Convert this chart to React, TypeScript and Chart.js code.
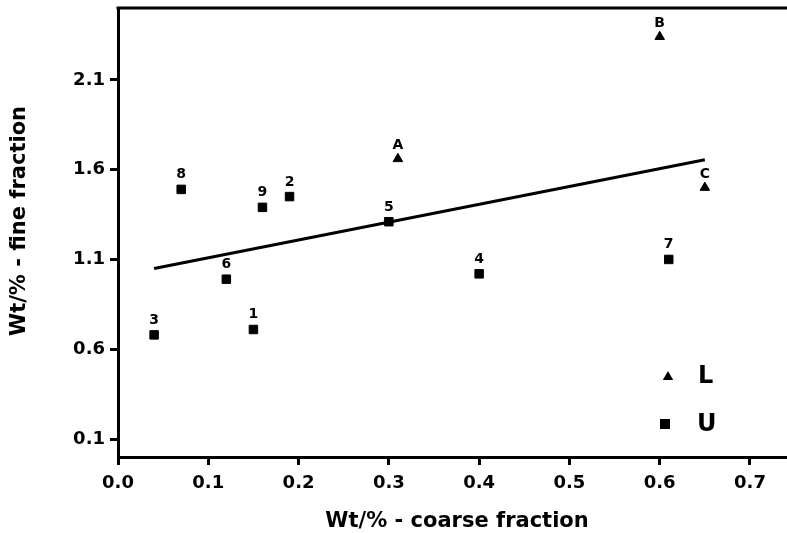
import React, { useEffect, useRef } from "react";
import { Chart, registerables } from "chart.js";

Chart.register(...registerables);

// ---- data ----
const U_LABELS = ["1", "2", "3", "4", "5", "6", "7", "8", "9"];
const U_X = [0.15, 0.19, 0.04, 0.4, 0.3, 0.12, 0.61, 0.07, 0.16];
const U_Y = [0.71, 1.45, 0.68, 1.02, 1.31, 0.99, 1.1, 1.49, 1.39];

const L_LABELS = ["A", "B", "C"];
const L_X = [0.31, 0.6, 0.65];
const L_Y = [1.66, 2.34, 1.5];

const FIT_X = [0.04, 0.65];
const FIT_Y = [1.05, 1.655];

const X_TICKS = [0, 0.1, 0.2, 0.3, 0.4, 0.5, 0.6, 0.7];
const Y_TICKS = [0.1, 0.6, 1.1, 1.6, 2.1];

const X_TITLE = "Wt/% - coarse fraction";
const Y_TITLE = "Wt/% - fine fraction";
const LEGEND_NAMES = ["L", "U"];

const FONT = "'DejaVu Sans', sans-serif";

const pointLabelsPlugin = {
  id: "pointLabels",
  afterDatasetsDraw(chart: any) {
    const ctx = chart.ctx;
    ctx.save();
    ctx.fillStyle = "#000";
    ctx.font = `bold 14px ${FONT}`;
    ctx.textAlign = "center";
    ctx.textBaseline = "alphabetic";
    chart.data.datasets.forEach((ds: any, di: number) => {
      if (!ds.pointLabels) return;
      const meta = chart.getDatasetMeta(di);
      meta.data.forEach((el: any, i: number) => {
        ctx.fillText(ds.pointLabels[i], el.x, el.y - ds.labelOffset);
      });
    });
    ctx.restore();
  },
};

const framePlugin = {
  id: "frame",
  afterDraw(chart: any) {
    const { ctx, chartArea } = chart;
    ctx.save();
    // top border
    ctx.strokeStyle = "#000";
    ctx.lineWidth = 3;
    ctx.beginPath();
    ctx.moveTo(chartArea.left - 1.5, chartArea.top);
    ctx.lineTo(chartArea.right, chartArea.top);
    ctx.stroke();

    // axis titles
    ctx.fillStyle = "#000";
    ctx.font = `bold 21px ${FONT}`;
    ctx.textAlign = "center";
    ctx.textBaseline = "alphabetic";
    ctx.fillText(X_TITLE, 457, 527);
    ctx.save();
    ctx.translate(25, 221);
    ctx.rotate(-Math.PI / 2);
    ctx.fillText(Y_TITLE, 0, 0);
    ctx.restore();

    // legend
    const tx = chartArea.right - 119;
    const ty = chartArea.bottom - 80;
    const r = 6;
    ctx.beginPath();
    ctx.moveTo(tx, ty - r);
    ctx.lineTo(tx + r * 0.866, ty + r * 0.5);
    ctx.lineTo(tx - r * 0.866, ty + r * 0.5);
    ctx.closePath();
    ctx.fill();
    const sx = chartArea.right - 122;
    const sy = chartArea.bottom - 33;
    ctx.fillRect(sx - 5, sy - 5, 10, 10);
    ctx.font = `bold 24px ${FONT}`;
    ctx.textAlign = "left";
    ctx.fillText(LEGEND_NAMES[0], chartArea.right - 89, chartArea.bottom - 74);
    ctx.fillText(LEGEND_NAMES[1], chartArea.right - 90, chartArea.bottom - 26);
    ctx.restore();
  },
};

export default function App() {
  const canvasRef = useRef<HTMLCanvasElement | null>(null);

  useEffect(() => {
    if (!canvasRef.current) return;
    const chart = new Chart(canvasRef.current, {
      type: "scatter",
      data: {
        datasets: [
          {
            label: "Fit",
            type: "line",
            data: FIT_X.map((x, i) => ({ x, y: FIT_Y[i] })),
            borderColor: "#000",
            borderWidth: 3,
            pointRadius: 0,
            fill: false,
          } as any,
          {
            label: LEGEND_NAMES[0],
            data: L_X.map((x, i) => ({ x, y: L_Y[i] })),
            pointStyle: "triangle",
            pointRadius: 5.5,
            backgroundColor: "#000",
            borderColor: "#000",
            borderWidth: 1,
            pointLabels: L_LABELS,
            labelOffset: 10,
          } as any,
          {
            label: LEGEND_NAMES[1],
            data: U_X.map((x, i) => ({ x, y: U_Y[i] })),
            pointStyle: "rect",
            pointRadius: 6,
            backgroundColor: "#000",
            borderColor: "#000",
            borderWidth: 1,
            pointLabels: U_LABELS,
            labelOffset: 11,
          } as any,
        ],
      },
      options: {
        responsive: false,
        animation: false,
        layout: { autoPadding: false, padding: { top: 8, left: 0, right: 0, bottom: 0 } },
        plugins: {
          legend: { display: false },
          tooltip: { enabled: false },
        },
        scales: {
          x: {
            type: "linear",
            min: 0,
            max: 0.741,
            afterFit: (s: any) => {
              s.height = 76;
              s.paddingLeft = 0;
              s.paddingRight = 0;
            },
            afterBuildTicks: (s: any) => {
              s.ticks = X_TICKS.map((v) => ({ value: v }));
            },
            ticks: {
              color: "#000",
              font: { family: FONT, size: 18, weight: "bold" },
              padding: 8,
              maxRotation: 0,
              callback: (v: any) => Number(v).toFixed(1),
            },
            grid: {
              display: true,
              drawOnChartArea: false,
              drawTicks: true,
              tickLength: 8,
              tickWidth: 3,
              tickColor: "#000",
            },
            border: { display: true, color: "#000", width: 3 },
          },
          y: {
            type: "linear",
            min: 0,
            max: 2.5,
            afterFit: (s: any) => {
              s.width = 118;
              s.paddingTop = 0;
              s.paddingBottom = 0;
            },
            afterBuildTicks: (s: any) => {
              s.ticks = Y_TICKS.map((v) => ({ value: v }));
            },
            ticks: {
              color: "#000",
              font: { family: FONT, size: 18, weight: "bold" },
              padding: 5,
              callback: (v: any) => Number(v).toFixed(1),
            },
            grid: {
              display: true,
              drawOnChartArea: false,
              drawTicks: true,
              tickLength: 8,
              tickWidth: 3,
              tickColor: "#000",
            },
            border: { display: true, color: "#000", width: 3 },
          },
        },
      } as any,
      plugins: [pointLabelsPlugin, framePlugin],
    });
    return () => chart.destroy();
  }, []);

  return (
    <div style={{ position: "absolute", left: 0, top: 0, width: 787, height: 533, background: "#fff" }}>
      <canvas ref={canvasRef} width={787} height={533} style={{ display: "block" }} />
    </div>
  );
}
